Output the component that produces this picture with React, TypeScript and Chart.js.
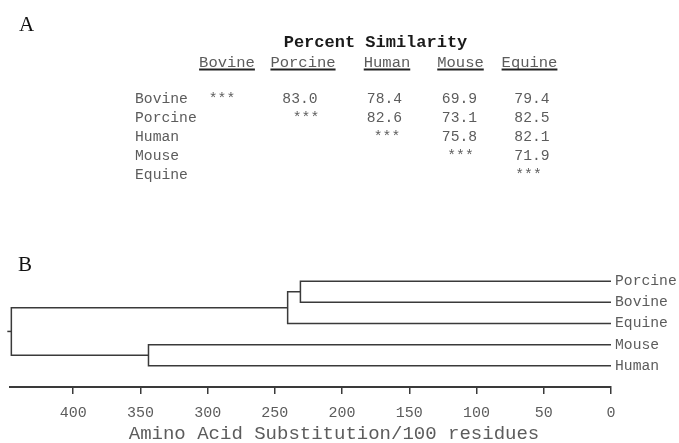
import React, { useEffect, useRef } from 'react';
import { Chart, registerables } from 'chart.js';

Chart.register(...registerables);

// Panel A: percent similarity matrix (upper triangle, row by row)
const species = ['Bovine', 'Porcine', 'Human', 'Mouse', 'Equine'];
const bovineSimilarity = [null, 83.0, 78.4, 69.9, 79.4];
const porcineSimilarity = [null, null, 82.6, 73.1, 82.5];
const humanSimilarity = [null, null, null, 75.8, 82.1];
const mouseSimilarity = [null, null, null, null, 71.9];
const equineSimilarity = [null, null, null, null, null];
const similarityRows = [bovineSimilarity, porcineSimilarity, humanSimilarity, mouseSimilarity, equineSimilarity];

// Panel B: dendrogram (leaves top to bottom, then joins in order)
const leafOrder = ['Porcine', 'Bovine', 'Equine', 'Mouse', 'Human'];
const joinName = ['PB', 'PBE', 'MH', 'Root'];
const joinLeft = ['Porcine', 'PB', 'Mouse', 'PBE'];
const joinRight = ['Bovine', 'Equine', 'Human', 'MH'];
const joinDistance = [231, 240.5, 344, 446];

const xTickValues = [0, 50, 100, 150, 200, 250, 300, 350, 400];
const xAxisTitle = 'Amino Acid Substitution/100 residues';
const tableTitle = 'Percent Similarity';

const MONO = '"Liberation Mono", "Courier New", monospace';
const SERIF = '"Liberation Serif", "Times New Roman", serif';
const LINE = '#3a3a3a';
const TEXT = '#5c5c5c';

// layout of the similarity table
const headerCenters = [227, 303, 387, 460.5, 529.5];
const valueCenters = [222, 300, 384.5, 459.5, 532];
const starCenters = [222, 306, 387, 460.5, 528.5];
const rowLabelX = 135;
const firstRowY = 99;
const rowStep = 19;

function buildTree() {
  const nodes: Record<string, { x: number; y: number }> = {};
  leafOrder.forEach((name, i) => {
    nodes[name] = { x: 0, y: i };
  });
  const datasets: any[] = [];
  joinName.forEach((name, i) => {
    const a = nodes[joinLeft[i]];
    const b = nodes[joinRight[i]];
    const d = joinDistance[i];
    nodes[name] = { x: d, y: (a.y + b.y) / 2 };
    datasets.push({
      label: name,
      data: [
        { x: a.x, y: a.y },
        { x: d, y: a.y },
        { x: d, y: b.y },
        { x: b.x, y: b.y },
      ],
    });
  });
  const root = nodes['Root'];
  // short stem leading out of the root
  datasets.push({
    label: 'stem',
    clip: false,
    data: [
      { x: root.x, y: root.y },
      { x: root.x + 3, y: root.y },
    ],
  });
  return datasets.map((ds) => ({
    ...ds,
    showLine: true,
    borderColor: LINE,
    borderWidth: 1.5,
    pointRadius: 0,
    pointHoverRadius: 0,
    tension: 0,
    fill: false,
  }));
}

const tablePlugin = {
  id: 'similarityTable',
  afterDraw(chart: any) {
    const ctx = chart.ctx as CanvasRenderingContext2D;
    ctx.save();
    ctx.textBaseline = 'middle';

    // panel letters
    ctx.fillStyle = '#111';
    ctx.font = `21px ${SERIF}`;
    ctx.textAlign = 'left';
    ctx.fillText('A', 19, 25);
    ctx.fillText('B', 18, 265);

    // table title
    ctx.fillStyle = '#1a1a1a';
    ctx.font = `bold 17px ${MONO}`;
    ctx.textAlign = 'center';
    ctx.fillText(tableTitle, 375.5, 43);

    // underlined column headers
    ctx.font = `15.5px ${MONO}`;
    species.forEach((name, i) => {
      ctx.fillStyle = TEXT;
      ctx.fillText(name, headerCenters[i], 63);
      const w = ctx.measureText(name).width;
      ctx.fillStyle = '#222';
      ctx.fillRect(headerCenters[i] - w / 2, 68.5, w, 2);
    });

    // rows
    ctx.font = `14.7px ${MONO}`;
    ctx.fillStyle = TEXT;
    species.forEach((name, r) => {
      const y = firstRowY + rowStep * r;
      ctx.textAlign = 'left';
      ctx.fillText(name, rowLabelX, y);
      ctx.textAlign = 'center';
      similarityRows[r].forEach((v, c) => {
        if (c === r) {
          ctx.fillText('***', starCenters[c], y);
        } else if (v !== null) {
          ctx.fillText((v as number).toFixed(1), valueCenters[c], y);
        }
      });
    });

    // axis title under the distance scale
    ctx.font = `19px ${MONO}`;
    ctx.textAlign = 'center';
    ctx.fillStyle = TEXT;
    ctx.fillText(xAxisTitle, 334, 434);
    ctx.restore();
  },
};

export default function App() {
  const ref = useRef<HTMLCanvasElement>(null);

  useEffect(() => {
    document.body.style.margin = '0';
    const canvas = ref.current;
    if (!canvas) return;
    const chart = new Chart(canvas, {
      type: 'scatter',
      data: { datasets: buildTree() },
      options: {
        animation: false,
        responsive: false,
        devicePixelRatio: 1,
        events: [],
        layout: { padding: { top: 260, left: 10, right: 0, bottom: 0 } },
        plugins: { legend: { display: false }, tooltip: { enabled: false } },
        scales: {
          x: {
            type: 'linear',
            min: 0,
            max: 447,
            reverse: true,
            afterBuildTicks: (scale: any) => {
              scale.ticks = xTickValues.map((v) => ({ value: v }));
            },
            afterFit: (scale: any) => {
              scale.height = 56;
            },
            grid: {
              display: true,
              drawOnChartArea: false,
              drawTicks: true,
              tickLength: 7,
              color: LINE,
              lineWidth: 1.5,
            },
            border: { display: true, color: LINE, width: 2 },
            ticks: {
              padding: 10,
              color: TEXT,
              font: { family: MONO, size: 15 },
              maxRotation: 0,
              autoSkip: false,
              callback: (v: any) => String(v),
            },
            title: { display: false },
          },
          y: {
            type: 'linear',
            position: 'right',
            min: -1,
            max: 5,
            reverse: true,
            afterBuildTicks: (scale: any) => {
              scale.ticks = leafOrder.map((_, i) => ({ value: i }));
            },
            afterFit: (scale: any) => {
              scale.width = 68;
            },
            grid: { display: false, drawTicks: false },
            border: { display: false },
            ticks: {
              padding: 4,
              color: TEXT,
              font: { family: MONO, size: 14.7 },
              autoSkip: false,
              callback: (v: any) => leafOrder[v as number] ?? '',
            },
          },
        },
      },
      plugins: [tablePlugin],
    });
    return () => chart.destroy();
  }, []);

  return <canvas ref={ref} width={679} height={443} style={{ display: 'block' }} />;
}
